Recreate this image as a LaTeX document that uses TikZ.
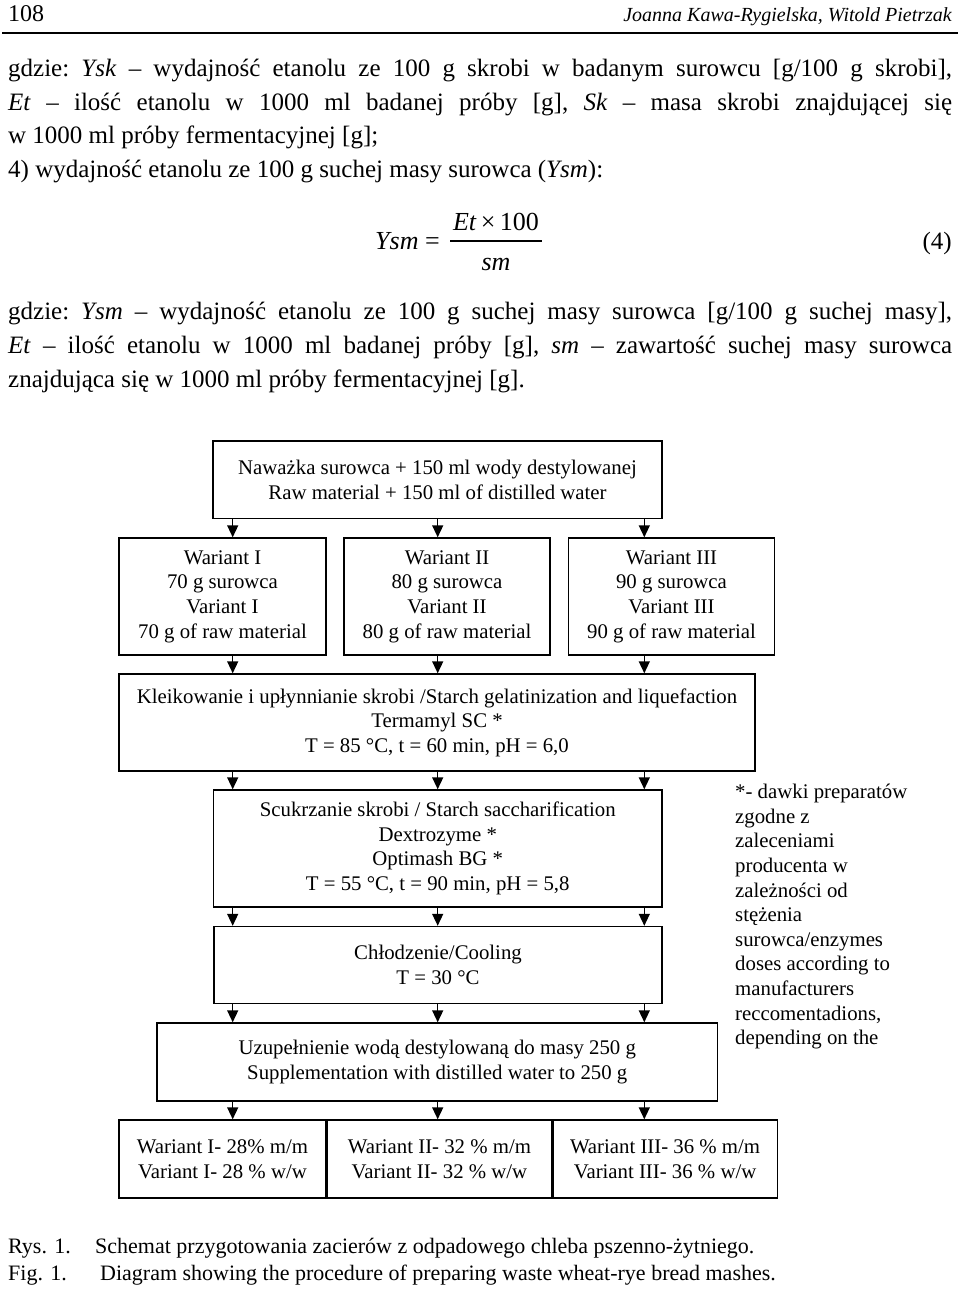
\documentclass[tikz,border=0pt]{standalone}
\usepackage{fontspec}
\setmainfont{Liberation Serif}
\usetikzlibrary{arrows.meta, positioning}
\newcommand\txtfont{\fontsize{25pt}{33.5pt}\selectfont\frenchspacing}
\newcommand\flowfont{\fontsize{20.8pt}{24.6pt}\selectfont}
\newcommand\jline[1]{\makebox[944pt][s]{#1}}

\begin{document}
\begin{tikzpicture}[x=1pt, y=-1pt,
    box/.style={draw, line width=1.4pt, align=center, inner sep=0pt, font=\flowfont},
    arr/.style={line width=1.4pt, -{Triangle[length=12pt, width=11pt]}},
    txt/.style={anchor=base west, inner sep=0pt, font=\txtfont}]
    \useasboundingbox (0,0) rectangle (960,1289);

    % Page header
    \node[anchor=base west, inner sep=0pt, font=\fontsize{24pt}{28pt}\selectfont] (page) at (8,22) {108};
    \node[anchor=base east, inner sep=0pt, font=\fontsize{20pt}{24pt}\selectfont\itshape] (authors) at (952,22) {Joanna Kawa-Rygielska, Witold Pietrzak};
    \draw[line width=2.4pt] (2,33) -- (958,33);

    % Text above the formula
    \node[txt] (l1) at (8,77) {\jline{gdzie: \textit{Ysk} – wydajność etanolu ze 100 g skrobi w badanym surowcu [g/100 g skrobi],}};
    \node[txt] (l2) at (8,110.5) {\jline{\textit{Et} – ilość etanolu w 1000 ml badanej próby [g], \textit{Sk} – masa skrobi znajdującej się}};
    \node[txt] (l3) at (8,144) {w 1000 ml próby fermentacyjnej [g];};
    \node[txt] (l4) at (8,177.5) {4) wydajność etanolu ze 100 g suchej masy surowca (\textit{Ysm}):};

    % Formula (4)
    \node[anchor=base west, inner sep=0pt, font=\fontsize{26pt}{30pt}\selectfont] (ysm) at (375,249) {\textit{Ysm} =};
    \node[anchor=base, inner sep=0pt, font=\fontsize{26pt}{30pt}\selectfont] (num) at (496,230) {\textit{Et}\,×\,100};
    \node[anchor=base, inner sep=0pt, font=\fontsize{26pt}{30pt}\selectfont] (den) at (496,270) {\textit{sm}};
    \draw[line width=1.2pt] (450,241) -- (542,241);
    \node[anchor=base east, inner sep=0pt, font=\txtfont] (eq) at (952,249) {(4)};

    % Text below the formula
    \node[txt] (l5) at (8,319) {\jline{gdzie: \textit{Ysm} – wydajność etanolu ze 100 g suchej masy surowca [g/100 g suchej masy],}};
    \node[txt] (l6) at (8,353) {\jline{\textit{Et} – ilość etanolu w 1000 ml badanej próby [g], \textit{sm} – zawartość suchej masy surowca}};
    \node[txt] (l7) at (8,387) {znajdująca się w 1000 ml próby fermentacyjnej [g].};

    % Flowchart
    \node[box, minimum width=449pt, minimum height=77.5pt] (top) at (437.5,479.75)
        {Naważka surowca + 150 ml wody destylowanej\\Raw material + 150 ml of distilled water};
    \node[box, minimum width=207pt, minimum height=117pt] (v1) at (222.5,596.5)
        {Wariant I\\70 g surowca\\Variant I\\70 g of raw material};
    \node[box, minimum width=206pt, minimum height=117pt] (v2) at (447,596.5)
        {Wariant II\\80 g surowca\\Variant II\\80 g of raw material};
    \node[box, minimum width=206pt, minimum height=117pt] (v3) at (671.5,596.5)
        {Wariant III\\90 g surowca\\Variant III\\90 g of raw material};
    \node[box, minimum width=636pt, minimum height=97pt] (kl) at (437,722.5)
        {Kleikowanie i upłynnianie skrobi /Starch gelatinization and liquefaction\\Termamyl SC *\\T = 85 °C, t = 60 min, pH = 6,0};
    \node[box, minimum width=448.5pt, minimum height=117pt] (sc) at (437.75,848.5)
        {Scukrzanie skrobi / Starch saccharification\\Dextrozyme *\\Optimash BG *\\T = 55 °C, t = 90 min, pH = 5,8};
    \node[box, minimum width=448pt, minimum height=77pt] (ch) at (438,965)
        {Chłodzenie/Cooling\\T = 30 °C};
    \node[box, minimum width=560.5pt, minimum height=78pt] (uz) at (437.25,1062)
        {Uzupełnienie wodą destylowaną do masy 250 g\\Supplementation with distilled water to 250 g};
    \node[box, minimum width=207pt, minimum height=78pt] (b1) at (222.5,1159)
        {Wariant I- 28\% m/m\\Variant I- 28 \% w/w};
    \node[box, minimum width=224pt, minimum height=78pt, right=0pt of b1] (b2)
        {Wariant II- 32 \% m/m\\Variant II- 32 \% w/w};
    \node[box, minimum width=224.5pt, minimum height=78pt, right=0pt of b2] (b3)
        {Wariant III- 36 \% m/m\\Variant III- 36 \% w/w};

    % Note on the enzymes
    \node[anchor=north west, inner sep=0pt, align=left, font=\flowfont] (note) at (735,784)
        {*- dawki preparatów\\zgodne z\\zaleceniami\\producenta w\\zależności od\\stężenia\\surowca/enzymes\\doses according to\\manufacturers\\reccomentadions,\\depending on the};

    % Arrow columns
    \coordinate (c1) at (232.7,0);
    \coordinate (c2) at (437.7,0);
    \coordinate (c3) at (644.3,0);
    \foreach \i in {1,2,3} {
        \draw[arr] (top.south -| c\i) -- (v\i.north -| c\i);
        \draw[arr] (v\i.south -| c\i) -- (kl.north -| c\i);
        \draw[arr] (kl.south -| c\i) -- (sc.north -| c\i);
        \draw[arr] (sc.south -| c\i) -- (ch.north -| c\i);
        \draw[arr] (ch.south -| c\i) -- (uz.north -| c\i);
        \draw[arr] (uz.south -| c\i) -- (b\i.north -| c\i);
    }

    % Caption
    \node[anchor=base west, inner sep=0pt, font=\fontsize{22pt}{27pt}\selectfont] (rys) at (8,1253) {Rys. 1.};
    \node[anchor=base west, inner sep=0pt, font=\fontsize{22pt}{27pt}\selectfont] (rystxt) at (95,1253) {Schemat przygotowania zacierów z odpadowego chleba pszenno-żytniego.};
    \node[anchor=base west, inner sep=0pt, font=\fontsize{22pt}{27pt}\selectfont] (fig) at (8,1280) {Fig. 1.};
    \node[anchor=base west, inner sep=0pt, font=\fontsize{22pt}{27pt}\selectfont] (figtxt) at (100,1280) {Diagram showing the procedure of preparing waste wheat-rye bread mashes.};
\end{tikzpicture}
\end{document}
